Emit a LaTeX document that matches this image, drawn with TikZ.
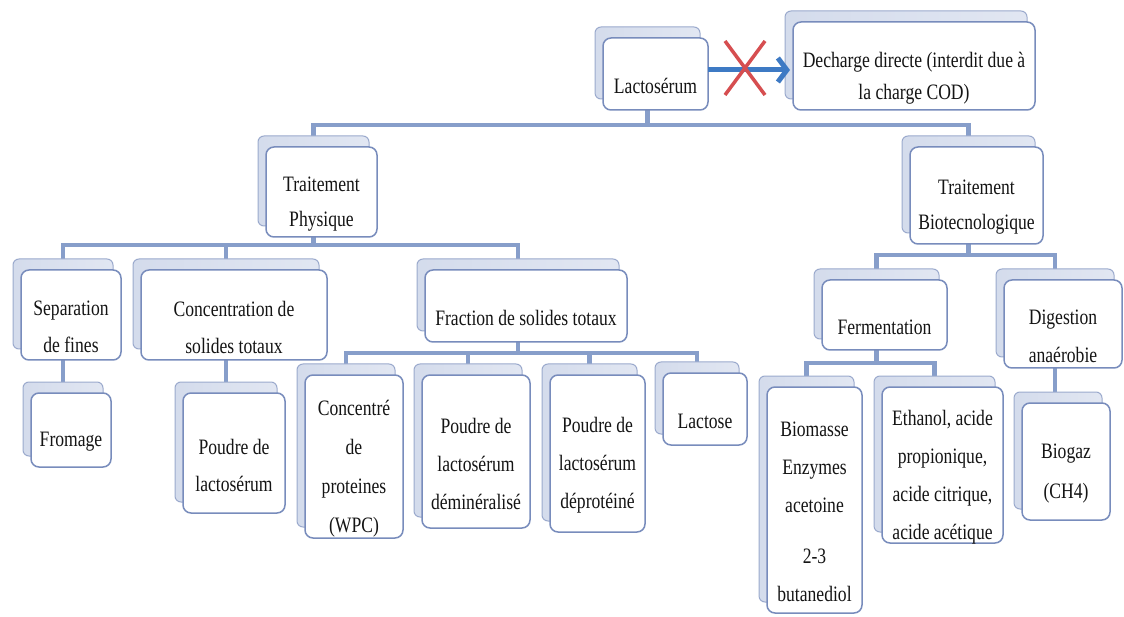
\documentclass[tikz,border=0pt]{standalone}
\usepackage{fontspec}
\setmainfont{Liberation Serif}[FakeStretch=0.8]
\usetikzlibrary{arrows.meta}
\pgfdeclarelayer{paper}
\pgfdeclarelayer{bg}
\pgfsetlayers{paper,bg,main}
\definecolor{cardline}{RGB}{120,140,188}
\definecolor{backline}{RGB}{155,170,205}
\definecolor{backL}{RGB}{160,176,212}
\definecolor{backM}{RGB}{210,218,235}
\definecolor{backR}{RGB}{232,236,245}
\definecolor{connc}{RGB}{135,158,202}
\definecolor{arrowc}{RGB}{62,122,196}
\definecolor{crossc}{RGB}{214,78,80}
\definecolor{txtc}{RGB}{20,20,20}
\pgfdeclarehorizontalshading{cardshade}{100bp}{color(0bp)=(backL); color(8bp)=(backL); color(18bp)=(backM); color(100bp)=(backR)}
\tikzset{
  backcard/.style={draw=backline, line width=1pt, rounded corners=6pt, shading=cardshade, inner sep=0pt, outer sep=0pt},
  frontcard/.style={draw=cardline, line width=1.5pt, rounded corners=8pt, fill=white, inner sep=0pt, outer sep=0pt},
  cardtext/.style={align=center, text=txtc, font=\fontsize{22}{37}\selectfont, inner sep=0pt},
  conn/.style={draw=connc, line width=4.5pt},
  bigarrow/.style={draw=arrowc, line width=5pt, -{Straight Barb[length=9pt,width=24pt]}},
  crossline/.style={draw=crossc, line width=3.5pt}
}
\newcommand\mycard[7]{%
  \node[backcard, minimum width={#4-#2}, minimum height={#5-#3}] (#1b) at ({(#2+#4)/2-8},{(#3+#5)/2-11}) {};
  \node[frontcard, minimum width={#4-#2}, minimum height={#5-#3}] (#1) at ({(#2+#4)/2},{(#3+#5)/2}) {};
  \node[cardtext,#6] (#1t) at ([yshift=-12pt]#1.center) {#7};
}
\begin{document}
\begin{tikzpicture}[x=1pt,y=-1pt]
\begin{pgfonlayer}{paper}
\fill[white] (0,0) rectangle (1124,617);
\end{pgfonlayer}
\useasboundingbox (0,0) rectangle (1124,617);
% level 0
\mycard{lac}{603}{38}{708}{110}{}{Lactosérum}
\mycard{dec}{793}{22}{1035}{110}{font=\fontsize{22}{32}\selectfont}{Decharge directe (interdit due à\\la charge COD)}
% level 1
\mycard{tp}{266}{147}{377}{237}{font=\fontsize{22}{35}\selectfont}{Traitement\\Physique}
\mycard{tb}{910}{147}{1043}{244}{font=\fontsize{22}{35}\selectfont}{Traitement\\Biotecnologique}
% level 2 left
\mycard{sep}{21}{270}{121}{360}{}{Separation\\de fines}
\mycard{conc}{141}{270}{327}{360}{}{Concentration de\\solides totaux}
\mycard{frac}{425}{270}{627}{342}{}{Fraction de solides totaux}
% level 3 left
\mycard{from}{31}{393}{111}{467}{}{Fromage}
\mycard{plac}{183}{393}{285}{513}{}{Poudre de\\lactosérum}
\mycard{conct}{305}{375}{403}{538}{font=\fontsize{22}{39}\selectfont}{Concentré\\de\\proteines\\(WPC)}
\mycard{demin}{422}{375}{530}{528}{font=\fontsize{22}{38}\selectfont}{Poudre de\\lactosérum\\déminéralisé}
\mycard{depro}{550}{375}{645}{532}{font=\fontsize{22}{38}\selectfont}{Poudre de\\lactosérum\\déprotéiné}
\mycard{lactose}{663}{373}{747}{445}{}{Lactose}
% level 2 right
\mycard{ferm}{822}{280}{947}{350}{}{Fermentation}
\mycard{dig}{1004}{280}{1122}{368}{font=\fontsize{22}{38}\selectfont}{Digestion\\anaérobie}
% level 3 right
\mycard{biom}{767}{387}{862}{613}{font=\fontsize{22}{38}\selectfont}{Biomasse\\Enzymes\\acetoine\\[13pt]2-3\\butanediol}
\mycard{eth}{882}{387}{1003}{543}{font=\fontsize{22}{38}\selectfont}{Ethanol, acide\\propionique,\\acide citrique,\\acide acétique}
\mycard{bgz}{1022}{403}{1110}{520}{font=\fontsize{22}{40}\selectfont}{Biogaz\\(CH4)}
% bus levels
\coordinate (y0) at (0,125);
\coordinate (y1) at (0,245);
\coordinate (y2) at (0,255);
\coordinate (y3) at (0,353);
\coordinate (y4) at (0,363);
\coordinate (ya) at (0,70);
\begin{pgfonlayer}{bg}
\draw[conn] (lacb.south) -- (lacb.south |- y0);
\draw[conn] (tpb.north) |- (tbb.north |- y0) -- (tbb.north);
\draw[conn] (tpb.south) -- (tpb.south |- y1);
\draw[conn] (sepb.north) |- (fracb.north |- y1) -- (fracb.north);
\draw[conn] (concb.north) -- (concb.north |- y1);
\draw[conn] (sepb.south) -- (fromb.north);
\draw[conn] (concb.south) -- (placb.north);
\draw[conn] (fracb.south) -- (fracb.south |- y3);
\draw[conn] (conctb.north) |- (lactoseb.north |- y3) -- (lactoseb.north);
\draw[conn] (deminb.north) -- (deminb.north |- y3);
\draw[conn] (deprob.north) -- (deprob.north |- y3);
\draw[conn] (tbb.south) -- (tbb.south |- y2);
\draw[conn] (fermb.north) |- (digb.north |- y2) -- (digb.north);
\draw[conn] (fermb.south) -- (fermb.south |- y4);
\draw[conn] (biomb.north) |- (ethb.north |- y4) -- (ethb.north);
\draw[conn] (digb.south) -- (digb.south |- bgzb.north);
\end{pgfonlayer}
% forbidden arrow
\draw[bigarrow, shorten >=3pt] (lac.east |- ya) -- (dec.west |- ya);
\coordinate (xc) at (745,68);
\draw[crossline] ([shift={(-20,-27)}]xc) -- ([shift={(20,27)}]xc);
\draw[crossline] ([shift={(-20,27)}]xc) -- ([shift={(20,-27)}]xc);
\end{tikzpicture}
\end{document}
